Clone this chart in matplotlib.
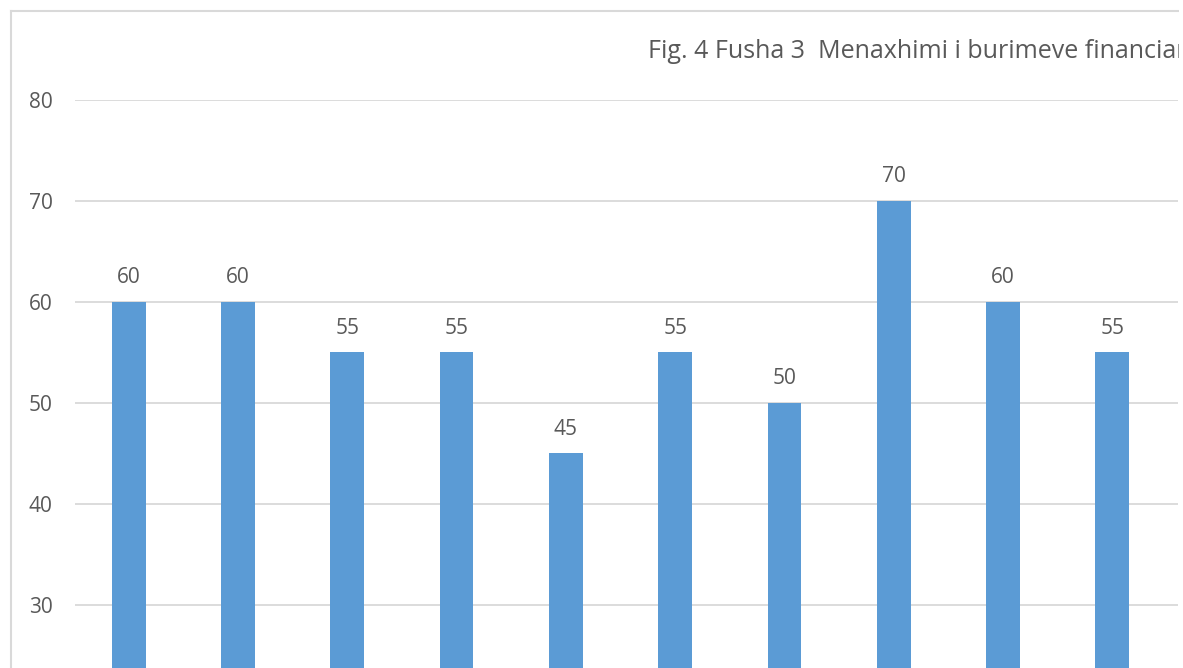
import matplotlib.pyplot as plt
from matplotlib.patches import Rectangle

# values (only the part visible in the crop)
categories = ['1', '2', '3', '4', '5', '6', '7', '8', '9', '10']
scores = [60, 60, 55, 55, 45, 55, 50, 70, 60, 55]
y_ticks = [30, 40, 50, 60, 70, 80]
title = 'Fig. 4 Fusha 3  Menaxhimi i burimeve financiare'

plt.rcParams['font.family'] = ['Open Sans', 'DejaVu Sans']
text_color = '#595959'
grid_color = '#D9D9D9'
bar_color = '#5B9BD5'

W, H = 1183, 668
fig = plt.figure(figsize=(W / 100, H / 100), dpi=100)

# axes placed in pixel terms: left 75, right 1178, top at the 80 gridline (y=100), bottom at image edge
ax = fig.add_axes([75 / W, 0, (1178 - 75) / W, (H - 100) / H])

x = list(range(len(categories)))
ax.bar(x, scores, width=0.31, color=bar_color, zorder=3)
for xi, v in zip(x, scores):
    ax.annotate(str(v), (xi, v), xytext=(0, 10), textcoords='offset points',
                ha='center', va='bottom', fontsize=15, color=text_color)

ax.set_xlim(-0.49, 9.60)
ax.set_ylim(23.76, 80)
ax.set_yticks(y_ticks)
ax.set_yticklabels([str(t) for t in y_ticks])
ax.set_xticks([])
ax.tick_params(axis='y', length=0, pad=16, labelsize=15, labelcolor=text_color)
ax.grid(axis='y', color=grid_color, linewidth=1.3, zorder=0)
for s in ax.spines.values():
    s.set_visible(False)

# chart title, cut off at the right edge like the original crop
fig.text(648 / W, 1 - 52 / H, title, ha='left', va='center',
         fontsize=18, color=text_color)

# chart area border (left and top edges only visible)
fig.add_artist(plt.Line2D([11 / W, 11 / W], [1 - 11 / H, 0], color=grid_color, linewidth=1.5))
fig.add_artist(plt.Line2D([11 / W, 1178 / W], [1 - 11 / H, 1 - 11 / H], color=grid_color, linewidth=1.5))
fig.add_artist(Rectangle((1179 / W, 0), 4 / W, 1, transform=fig.transFigure,
                         facecolor='white', edgecolor='none', zorder=10))

fig.savefig('out.png', dpi=100)
